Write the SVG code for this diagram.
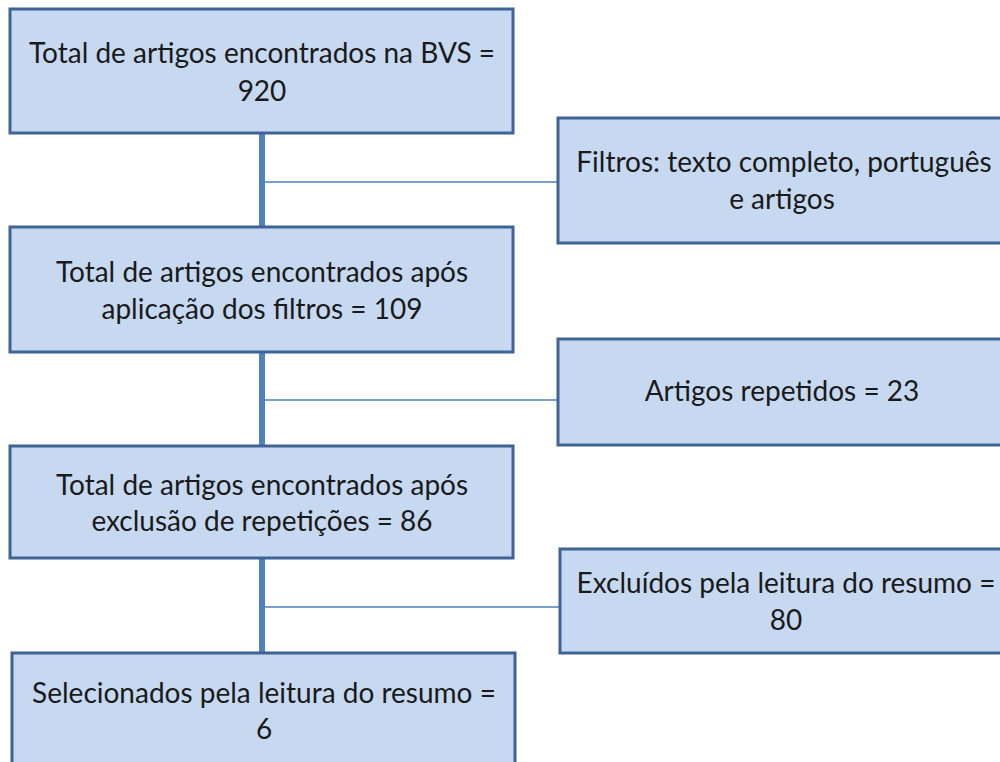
<svg xmlns="http://www.w3.org/2000/svg" width="1000" height="762" viewBox="0 0 1000 762">
<style>
.box{fill:#c6d9f1;stroke:#3e6394;stroke-width:3}
.t{font-family:Lato,"Open Sans",sans-serif;font-size:28px;fill:#1a1a1a;text-anchor:middle}
.trunk{stroke:#4f81bd;stroke-width:6;fill:none}
.branch{stroke:#4f81bd;stroke-width:1.5;fill:none}
</style>
<rect width="1000" height="762" fill="#ffffff"/>
<g id="connectors">
<line class="trunk" x1="262" y1="133" x2="262" y2="227"/>
<line class="trunk" x1="262" y1="352" x2="262" y2="446"/>
<line class="trunk" x1="262" y1="558" x2="262" y2="653"/>
<line class="branch" x1="262" y1="182" x2="558" y2="182"/>
<line class="branch" x1="262" y1="400" x2="558" y2="400"/>
<line class="branch" x1="262" y1="607" x2="560" y2="607"/>
</g>
<g id="n1"><rect class="box" x="10" y="9" width="503" height="124"/>
<text class="t" x="262" y="63">Total de artigos encontrados na BVS =</text>
<text class="t" x="262" y="101">920</text></g>
<g id="n2"><rect class="box" x="10" y="227" width="503" height="125"/>
<text class="t" x="262" y="282">Total de artigos encontrados após</text>
<text class="t" x="262" y="319">aplicação dos filtros = 109</text></g>
<g id="n3"><rect class="box" x="10" y="446" width="503" height="112"/>
<text class="t" x="262" y="495">Total de artigos encontrados após</text>
<text class="t" x="262" y="531">exclusão de repetições = 86</text></g>
<g id="n4"><rect class="box" x="12" y="653" width="503" height="115"/>
<text class="t" x="264" y="703">Selecionados pela leitura do resumo =</text>
<text class="t" x="264" y="739">6</text></g>
<g id="r1"><rect class="box" x="558" y="118" width="450" height="125"/>
<text class="t" x="784" y="172">Filtros: texto completo, português</text>
<text class="t" x="782" y="209">e artigos</text></g>
<g id="r2"><rect class="box" x="558" y="339" width="450" height="106"/>
<text class="t" x="782" y="401">Artigos repetidos = 23</text></g>
<g id="r3"><rect class="box" x="560" y="549" width="450" height="104"/>
<text class="t" x="786" y="593">Excluídos pela leitura do resumo =</text>
<text class="t" x="786" y="630">80</text></g>
</svg>
